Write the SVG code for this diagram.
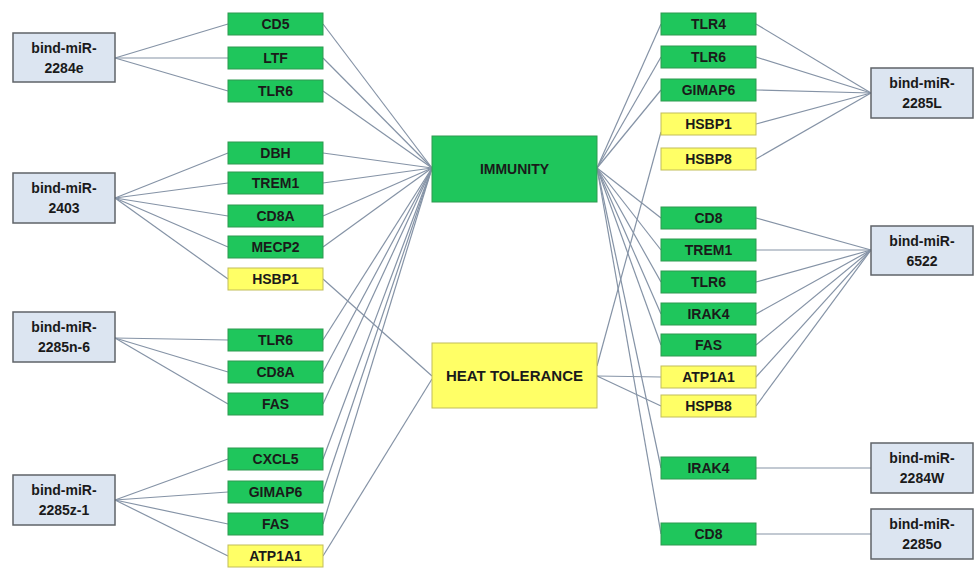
<svg xmlns="http://www.w3.org/2000/svg" width="978" height="568" viewBox="0 0 978 568">
<style>
.mir{fill:#dce5f1;stroke:#5f6368;stroke-width:1.5}
.g{fill:#1fc65c;stroke:#2e9a50;stroke-width:1}
.y{fill:#ffff66;stroke:#c2bd5a;stroke-width:1}
text{font-family:"Liberation Sans",Arial,sans-serif;font-weight:bold;fill:#1a1a1a;text-anchor:middle}
.t{font-size:14px}
.c line{stroke:#8593a6;stroke-width:1.2}
</style>
<rect width="978" height="568" fill="#ffffff"/>
<g class="c" id="connectors">
<line x1="115" y1="58" x2="228" y2="24"/><line x1="115" y1="58" x2="228" y2="58"/><line x1="115" y1="58" x2="228" y2="91"/>
<line x1="115" y1="198" x2="228" y2="153"/><line x1="115" y1="198" x2="228" y2="183"/><line x1="115" y1="198" x2="228" y2="216"/><line x1="115" y1="198" x2="228" y2="247"/><line x1="115" y1="198" x2="228" y2="279"/>
<line x1="115" y1="338" x2="228" y2="340"/><line x1="115" y1="338" x2="228" y2="372"/><line x1="115" y1="338" x2="228" y2="404"/>
<line x1="115" y1="500" x2="228" y2="459"/><line x1="115" y1="500" x2="228" y2="492"/><line x1="115" y1="500" x2="228" y2="524"/><line x1="115" y1="500" x2="228" y2="556"/>
<line x1="323" y1="24" x2="432" y2="168"/><line x1="323" y1="58" x2="432" y2="168"/><line x1="323" y1="91" x2="432" y2="168"/>
<line x1="323" y1="153" x2="432" y2="168"/><line x1="323" y1="183" x2="432" y2="168"/><line x1="323" y1="216" x2="432" y2="168"/><line x1="323" y1="247" x2="432" y2="168"/>
<line x1="323" y1="340" x2="432" y2="168"/><line x1="323" y1="372" x2="432" y2="168"/><line x1="323" y1="404" x2="432" y2="168"/>
<line x1="323" y1="459" x2="432" y2="168"/><line x1="323" y1="492" x2="432" y2="168"/><line x1="323" y1="524" x2="432" y2="168"/>
<line x1="323" y1="279" x2="432" y2="376"/><line x1="323" y1="556" x2="432" y2="379"/>
<line x1="597" y1="168" x2="661" y2="24"/><line x1="597" y1="168" x2="661" y2="57"/><line x1="597" y1="168" x2="661" y2="90"/>
<line x1="597" y1="168" x2="661" y2="218"/><line x1="597" y1="168" x2="661" y2="250"/><line x1="597" y1="168" x2="661" y2="282"/><line x1="597" y1="168" x2="661" y2="314"/><line x1="597" y1="168" x2="661" y2="345"/>
<line x1="597" y1="168" x2="661" y2="468"/><line x1="597" y1="168" x2="661" y2="534"/>
<line x1="597" y1="366" x2="661" y2="132"/><line x1="597" y1="376" x2="661" y2="377"/><line x1="597" y1="376" x2="661" y2="406"/>
<line x1="756" y1="24" x2="871" y2="93"/><line x1="756" y1="57" x2="871" y2="93"/><line x1="756" y1="90" x2="871" y2="93"/><line x1="756" y1="124" x2="871" y2="93"/><line x1="756" y1="159" x2="871" y2="93"/>
<line x1="756" y1="218" x2="871" y2="250"/><line x1="756" y1="250" x2="871" y2="250"/><line x1="756" y1="282" x2="871" y2="250"/><line x1="756" y1="314" x2="871" y2="250"/><line x1="756" y1="345" x2="871" y2="250"/><line x1="756" y1="377" x2="871" y2="250"/><line x1="756" y1="406" x2="871" y2="250"/>
<line x1="756" y1="468" x2="871" y2="468"/><line x1="756" y1="534" x2="871" y2="534"/>
</g>
<g id="mir-2284e"><rect class="mir" x="13" y="33" width="102" height="49"/><text class="t" x="64" y="53">bind-miR-</text><text class="t" x="64" y="73">2284e</text></g>
<g id="mir-2403"><rect class="mir" x="13" y="173" width="102" height="50"/><text class="t" x="64" y="193">bind-miR-</text><text class="t" x="64" y="213">2403</text></g>
<g id="mir-2285n-6"><rect class="mir" x="13" y="312" width="102" height="50"/><text class="t" x="64" y="332">bind-miR-</text><text class="t" x="64" y="352">2285n-6</text></g>
<g id="mir-2285z-1"><rect class="mir" x="13" y="475" width="102" height="50"/><text class="t" x="64" y="495">bind-miR-</text><text class="t" x="64" y="515">2285z-1</text></g>
<g id="l-cd5"><rect class="g" x="228" y="13" width="95" height="22"/><text class="t" x="275.5" y="29">CD5</text></g>
<g id="l-ltf"><rect class="g" x="228" y="47" width="95" height="22"/><text class="t" x="275.5" y="63">LTF</text></g>
<g id="l-tlr6a"><rect class="g" x="228" y="80" width="95" height="22"/><text class="t" x="275.5" y="96">TLR6</text></g>
<g id="l-dbh"><rect class="g" x="228" y="142" width="95" height="22"/><text class="t" x="275.5" y="158">DBH</text></g>
<g id="l-trem1"><rect class="g" x="228" y="172" width="95" height="22"/><text class="t" x="275.5" y="188">TREM1</text></g>
<g id="l-cd8a-a"><rect class="g" x="228" y="205" width="95" height="22"/><text class="t" x="275.5" y="221">CD8A</text></g>
<g id="l-mecp2"><rect class="g" x="228" y="236" width="95" height="22"/><text class="t" x="275.5" y="252">MECP2</text></g>
<g id="l-hsbp1"><rect class="y" x="228" y="268" width="95" height="22"/><text class="t" x="275.5" y="284">HSBP1</text></g>
<g id="l-tlr6b"><rect class="g" x="228" y="329" width="95" height="22"/><text class="t" x="275.5" y="345">TLR6</text></g>
<g id="l-cd8a-b"><rect class="g" x="228" y="361" width="95" height="22"/><text class="t" x="275.5" y="377">CD8A</text></g>
<g id="l-fas-a"><rect class="g" x="228" y="393" width="95" height="22"/><text class="t" x="275.5" y="409">FAS</text></g>
<g id="l-cxcl5"><rect class="g" x="228" y="448" width="95" height="22"/><text class="t" x="275.5" y="464">CXCL5</text></g>
<g id="l-gimap6"><rect class="g" x="228" y="481" width="95" height="22"/><text class="t" x="275.5" y="497">GIMAP6</text></g>
<g id="l-fas-b"><rect class="g" x="228" y="513" width="95" height="22"/><text class="t" x="275.5" y="529">FAS</text></g>
<g id="l-atp1a1"><rect class="y" x="228" y="545" width="95" height="22"/><text class="t" x="275.5" y="561">ATP1A1</text></g>
<g id="immunity"><rect class="g" x="432" y="136" width="165" height="66"/><text class="t" x="514.5" y="174">IMMUNITY</text></g>
<g id="heat-tolerance"><rect class="y" x="432" y="343" width="165" height="65"/><text x="514.5" y="381" style="font-size:15px">HEAT TOLERANCE</text></g>
<g id="r-tlr4"><rect class="g" x="661" y="13" width="95" height="22"/><text class="t" x="708.5" y="29">TLR4</text></g>
<g id="r-tlr6a"><rect class="g" x="661" y="46" width="95" height="22"/><text class="t" x="708.5" y="62">TLR6</text></g>
<g id="r-gimap6"><rect class="g" x="661" y="79" width="95" height="22"/><text class="t" x="708.5" y="95">GIMAP6</text></g>
<g id="r-hsbp1"><rect class="y" x="661" y="113" width="95" height="22"/><text class="t" x="708.5" y="129">HSBP1</text></g>
<g id="r-hsbp8"><rect class="y" x="661" y="148" width="95" height="22"/><text class="t" x="708.5" y="164">HSBP8</text></g>
<g id="r-cd8a"><rect class="g" x="661" y="207" width="95" height="22"/><text class="t" x="708.5" y="223">CD8</text></g>
<g id="r-trem1"><rect class="g" x="661" y="239" width="95" height="22"/><text class="t" x="708.5" y="255">TREM1</text></g>
<g id="r-tlr6b"><rect class="g" x="661" y="271" width="95" height="22"/><text class="t" x="708.5" y="287">TLR6</text></g>
<g id="r-irak4a"><rect class="g" x="661" y="303" width="95" height="22"/><text class="t" x="708.5" y="319">IRAK4</text></g>
<g id="r-fas"><rect class="g" x="661" y="334" width="95" height="22"/><text class="t" x="708.5" y="350">FAS</text></g>
<g id="r-atp1a1"><rect class="y" x="661" y="366" width="95" height="22"/><text class="t" x="708.5" y="382">ATP1A1</text></g>
<g id="r-hspb8"><rect class="y" x="661" y="395" width="95" height="22"/><text class="t" x="708.5" y="411">HSPB8</text></g>
<g id="r-irak4b"><rect class="g" x="661" y="457" width="95" height="22"/><text class="t" x="708.5" y="473">IRAK4</text></g>
<g id="r-cd8b"><rect class="g" x="661" y="523" width="95" height="22"/><text class="t" x="708.5" y="539">CD8</text></g>
<g id="mir-2285L"><rect class="mir" x="871" y="68" width="102" height="50"/><text class="t" x="922" y="88">bind-miR-</text><text class="t" x="922" y="108">2285L</text></g>
<g id="mir-6522"><rect class="mir" x="871" y="226" width="102" height="49"/><text class="t" x="922" y="246">bind-miR-</text><text class="t" x="922" y="266">6522</text></g>
<g id="mir-2284W"><rect class="mir" x="871" y="443" width="102" height="50"/><text class="t" x="922" y="463">bind-miR-</text><text class="t" x="922" y="483">2284W</text></g>
<g id="mir-2285o"><rect class="mir" x="871" y="509" width="102" height="50"/><text class="t" x="922" y="529">bind-miR-</text><text class="t" x="922" y="549">2285o</text></g>
</svg>
